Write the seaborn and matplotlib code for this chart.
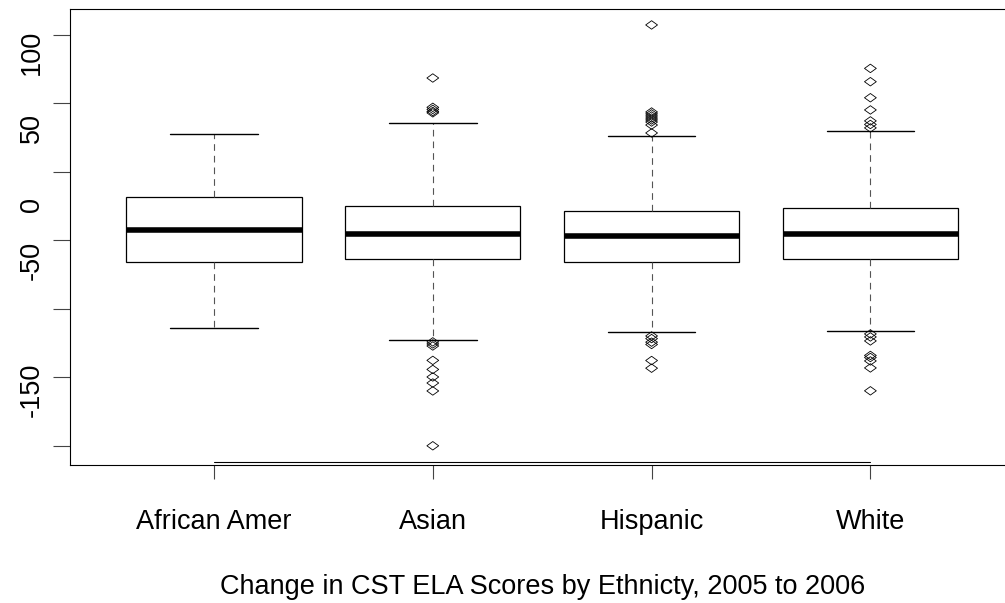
import matplotlib
matplotlib.use("Agg")
import matplotlib.pyplot as plt
import matplotlib.transforms as mtransforms
from matplotlib.path import Path
import numpy as np
import pandas as pd
import seaborn as sns

# ---- data -------------------------------------------------------------
groups = ["African Amer", "Asian", "Hispanic", "White"]

# five-number summaries per group (whisker ends, hinges, median)
whisker_low = [-113.9, -122.5, -116.8, -116.0]
hinge_low = [-65.9, -64.0, -65.9, -64.0]
medians = [-42.7, -45.2, -47.1, -45.2]
hinge_high = [-18.2, -24.7, -28.6, -26.6]
whisker_high = [27.4, 35.9, 25.8, 29.7]

# points beyond the whiskers
african_amer_outliers = []
asian_outliers = [68.4, 47.0, 45.5, 44.0, 43.0,
                  -124.1, -125.6, -127.1, -137.6, -144.2, -149.7, -154.1, -159.9, -199.9]
hispanic_outliers = [107.1, 43.6, 42.2, 40.7, 39.2, 37.8, 36.3, 34.1, 28.3,
                     -119.8, -121.7, -124.3, -126.0, -137.7, -143.3]
white_outliers = [75.4, 65.7, 54.0, 45.1, 37.1, 34.5, 32.0,
                  -118.3, -120.5, -123.4, -134.0, -135.5, -138.0, -143.1, -159.8]

y_ticks = [-200, -150, -100, -50, 0, 50, 100]
y_tick_labels = ["", "-150", "", "-50", "0", "50", "100"]
x_title = "Change in CST ELA Scores by Ethnicty, 2005 to 2006"

# ---- tables for seaborn ----------------------------------------------
box_rows = []
for g, lo, q1, md, q3, hi in zip(groups, whisker_low, hinge_low, medians,
                                 hinge_high, whisker_high):
    for v in (lo, q1, md, q3, hi):
        box_rows.append((g, v))
box_df = pd.DataFrame(box_rows, columns=["group", "change"])

out_rows = []
for g, vals in zip(groups, [african_amer_outliers, asian_outliers,
                            hispanic_outliers, white_outliers]):
    for v in vals:
        out_rows.append((g, v))
out_df = pd.DataFrame(out_rows, columns=["group", "change"])

# ---- style -----------------------------------------------------------
sns.set_theme(style="ticks")
plt.rcParams["font.family"] = ["Liberation Sans", "DejaVu Sans"]
plt.rcParams["axes.edgecolor"] = "black"
plt.rcParams["axes.linewidth"] = 0.8

fig = plt.figure(figsize=(10.05, 6.03), dpi=100)
ax = fig.add_axes([0.06925, 0.2289, 0.9405, 0.757])

sns.boxplot(
    data=box_df, x="group", y="change", order=groups,
    whis=(0, 100), width=0.8, showfliers=False,
    color="white", linecolor="black", linewidth=0.9,
    medianprops=dict(color="black", linewidth=4.0, solid_capstyle="butt"),
    whiskerprops=dict(color="#555555", linewidth=0.8, linestyle=(0, (6, 4.5))),
    capprops=dict(color="black", linewidth=1.0),
    boxprops=dict(edgecolor="black", facecolor="white", linewidth=0.9),
    ax=ax,
)

diamond = Path([(-1.0, 0.0), (0.0, 0.72), (1.0, 0.0), (0.0, -0.72), (-1.0, 0.0)],
               [Path.MOVETO, Path.LINETO, Path.LINETO, Path.LINETO, Path.CLOSEPOLY])
n_before = len(ax.collections)
sns.stripplot(data=out_df, x="group", y="change", order=groups, jitter=False,
              marker=diamond, size=8.5, color="black", ax=ax)
for coll in ax.collections[n_before:]:
    coll.set_facecolor("none")
    coll.set_edgecolor("black")
    coll.set_linewidth(0.6)

ax.set_xlim(-0.66, len(groups) - 1 + 0.66)
ax.set_ylim(-213.9, 119.1)

# y ticks; the rotated labels start a little below their tick
ax.set_yticks(y_ticks)
ax.set_yticklabels([])
ax.tick_params(axis="y", length=12, width=0.8, color="#444444")
label_shift = mtransforms.ScaledTranslation(-0.25, -0.40, fig.dpi_scale_trans)
label_trans = ax.get_yaxis_transform() + label_shift
for v, lab in zip(y_ticks, y_tick_labels):
    ax.text(0, v, lab, transform=label_trans, rotation=90, ha="right", va="bottom",
            fontsize=19.5, color="black", clip_on=False)

ax.tick_params(axis="x", length=10, width=0.8, color="#444444", pad=21.6,
               labelsize=19.5, labelcolor="black")

ax.set_ylabel("")
ax.set_xlabel(x_title, fontsize=19.5, color="black")
ax.xaxis.set_label_coords(0.5, -0.2388)

for side in ["top", "bottom", "left", "right"]:
    ax.spines[side].set_visible(True)
    ax.spines[side].set_color("black")
    ax.spines[side].set_linewidth(0.8)

# axis line spanning the first to last category, just above the frame
ax.plot([0, len(groups) - 1], [0.0066, 0.0066], transform=ax.get_xaxis_transform(),
        color="black", linewidth=0.8, clip_on=False)

fig.savefig("out.png", dpi=100)
